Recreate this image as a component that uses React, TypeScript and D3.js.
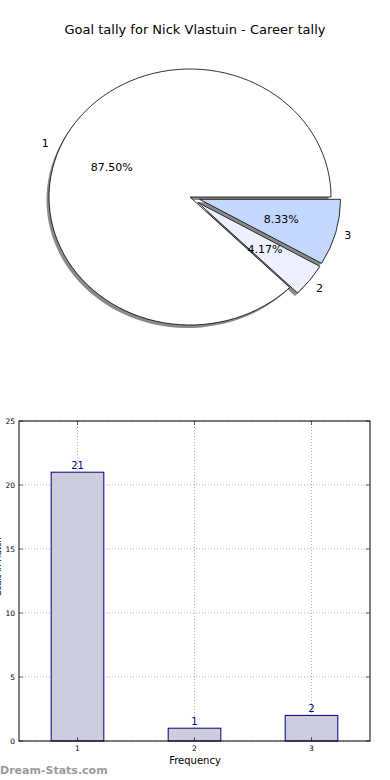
import React from 'react';
import * as d3 from 'd3';

const title = 'Goal tally for Nick Vlastuin - Career tally';
const goalCats = ['1', '2', '3'];
const matchCounts = [21, 1, 2];
const explode = [0, 0.07, 0.07];
const sliceColors = ['#ffffff', '#edf1ff', '#c4d7ff'];
const yTicks = [0, 5, 10, 15, 20, 25];

const W = 390;
const H = 780;
const font = '"DejaVu Sans", sans-serif';

// pie geometry (matplotlib draws an ellipse here)
const cx = 190;
const cy = 197;
const rx = 141;
const ry = 128;

// bar axes box
const bx0 = 19;
const bx1 = 370;
const by0 = 421;
const by1 = 741;

function wedgePath(ox: number, oy: number, a0: number, a1: number) {
  const x0 = ox + rx * Math.cos(a0);
  const y0 = oy - ry * Math.sin(a0);
  const x1 = ox + rx * Math.cos(a1);
  const y1 = oy - ry * Math.sin(a1);
  const large = a1 - a0 > Math.PI ? 1 : 0;
  return `M${ox},${oy}L${x0},${y0}A${rx},${ry} 0 ${large} 0 ${x1},${y1}Z`;
}

const App = () => {
  const total = d3.sum(matchCounts);
  const arcs = d3.pie<number>().sort(null).startAngle(0).endAngle(2 * Math.PI)(matchCounts);

  const slices = arcs.map((a, i) => {
    const mid = (a.startAngle + a.endAngle) / 2;
    const ox = cx + explode[i] * rx * Math.cos(mid);
    const oy = cy - explode[i] * ry * Math.sin(mid);
    return {
      i,
      ox,
      oy,
      a0: a.startAngle,
      a1: a.endAngle,
      lx: ox + 1.1 * rx * Math.cos(mid),
      ly: oy - 1.1 * ry * Math.sin(mid),
      px: ox + 0.6 * rx * Math.cos(mid),
      py: oy - 0.6 * ry * Math.sin(mid),
      pct: ((matchCounts[i] / total) * 100).toFixed(2) + '%',
    };
  });

  const x = d3.scaleLinear().domain([0.5, 3.5]).range([bx0, bx1]);
  const y = d3.scaleLinear().domain([0, 25]).range([by1, by0]);
  const barW = x(0.45) - x(0);

  return (
    <svg
      width={W}
      height={H}
      style={{ position: 'absolute', left: 0, top: 0, background: '#fff' }}
      fontFamily={font}
    >
      <text x={195} y={34} textAnchor="middle" fontSize={13} fill="#000">
        {title}
      </text>

      {/* shadows */}
      {slices.map((s) => (
        <path key={'sh' + s.i} d={wedgePath(s.ox - 2.5, s.oy + 3, s.a0, s.a1)} fill="#8a8a8a" />
      ))}
      {slices.map((s) => (
        <path
          key={'w' + s.i}
          d={wedgePath(s.ox, s.oy, s.a0, s.a1)}
          fill={sliceColors[s.i]}
          stroke="#000"
          strokeWidth={0.8}
          strokeLinejoin="round"
        />
      ))}
      {slices.map((s) => (
        <g key={'l' + s.i} fontSize={11} fill="#000">
          <text x={s.lx - 1.5} y={s.ly} textAnchor="middle" dominantBaseline="central">
            {goalCats[s.i]}
          </text>
          <text x={s.px} y={s.py} textAnchor="middle" dominantBaseline="central">
            {s.pct}
          </text>
        </g>
      ))}

      {/* bar chart */}
      {yTicks.map((t) => (
        <g key={'y' + t}>
          <line x1={bx0} x2={bx1} y1={y(t)} y2={y(t)} stroke="#b0b0b0" strokeDasharray="1,2" />
          <line x1={bx0} x2={bx0 + 4} y1={y(t)} y2={y(t)} stroke="#000" strokeWidth={0.6} />
          <line x1={bx1 - 4} x2={bx1} y1={y(t)} y2={y(t)} stroke="#000" strokeWidth={0.6} />
          <text x={bx0 - 4} y={y(t)} textAnchor="end" dominantBaseline="central" fontSize={7.5}>
            {t}
          </text>
        </g>
      ))}
      {goalCats.map((c, i) => (
        <g key={'x' + c}>
          <line x1={x(i + 1)} x2={x(i + 1)} y1={by0} y2={by1} stroke="#b0b0b0" strokeDasharray="1,2" />
        </g>
      ))}
      {matchCounts.map((v, i) => (
        <g key={'b' + i}>
          <rect
            x={x(i + 1) - barW / 2}
            y={y(v)}
            width={barW}
            height={y(0) - y(v)}
            fill="#ccccdf"
            stroke="#000080"
            strokeWidth={1}
          />
          <text x={x(i + 1)} y={y(v) - 3} textAnchor="middle" fontSize={10} fill="#000080">
            {v}
          </text>
        </g>
      ))}
      {goalCats.map((c, i) => (
        <g key={'xt' + c}>
          <line x1={x(i + 1)} x2={x(i + 1)} y1={by1 - 4} y2={by1} stroke="#000" strokeWidth={0.6} />
          <line x1={x(i + 1)} x2={x(i + 1)} y1={by0} y2={by0 + 4} stroke="#000" strokeWidth={0.6} />
          <text x={x(i + 1)} y={by1 + 10} textAnchor="middle" fontSize={7.5}>
            {c}
          </text>
        </g>
      ))}
      <rect x={bx0} y={by0} width={bx1 - bx0} height={by1 - by0} fill="none" stroke="#000" strokeWidth={1} />

      <text x={195} y={764} textAnchor="middle" fontSize={10}>
        Frequency
      </text>
      <text
        transform="translate(1,567) rotate(-90)"
        textAnchor="middle"
        fontSize={8}
        fill="#000"
      >
        Goals in Match
      </text>
      <text x={0} y={774} fontSize={11} fill="#9a9a9a" fontWeight={600}>
        Dream-Stats.com
      </text>
    </svg>
  );
};

export default App;
